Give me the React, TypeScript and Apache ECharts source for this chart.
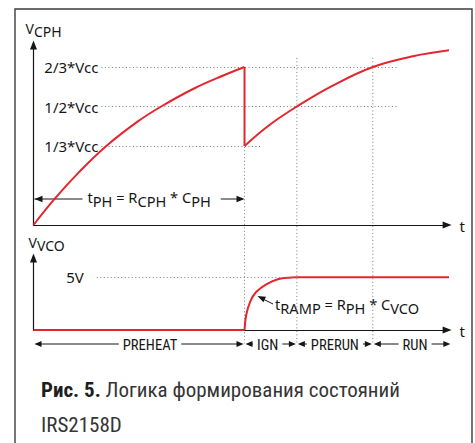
import React, { useEffect, useRef } from "react";
import * as echarts from "echarts";

// ---------- data ----------
// top panel: V_CPH as a fraction of Vcc, time in units of t_PH
const preheatT = [0, 0.1, 0.218, 0.345, 0.493, 0.605, 0.763, 0.905, 1.0];
const preheatV = [0, 0.11, 0.225, 0.3333, 0.436, 0.5, 0.577, 0.633, 0.6667];
const dropT = [1.0, 1.0];
const dropV = [0.6667, 0.3333];
const afterT = [1.0, 1.118, 1.248, 1.418, 1.608, 1.798, 1.995];
const afterV = [0.3333, 0.422, 0.5, 0.588, 0.6667, 0.712, 0.74];

const levelValues = [2 / 3, 1 / 2, 1 / 3];
const levelLabels = ["2/3*Vcc", "1/2*Vcc", "1/3*Vcc"];
const levelStart = [0.322, 0.322, 0.322];
const levelEnd = [1.725, 1.725, 1.076];

const guideT = [1.0, 1.248, 1.608];
const guideTopV = [0.33, 0.705, 0.705];
const guideBottomV = [-0.5, -0.5, -0.5];

// bottom panel: V_VCO in volts
const vcoLowT = [0, 1.0];
const vcoLowV = [0, 0];
const rampT = [1.0, 1.008, 1.027, 1.055, 1.103, 1.158, 1.221, 1.248];
const rampV = [0, 1.42, 2.7, 3.6, 4.33, 4.81, 4.98, 5];
const vcoHighT = [1.248, 1.995];
const vcoHighV = [5, 5];
const vcoLevel = 5;
const vcoLevelLabel = "5V";
const vcoLevelStart = 0.3;
const vcoLevelEnd = 1.248;

const phaseNames = ["PREHEAT", "IGN", "PRERUN", "RUN"];
const phaseBounds = [0, 1.0, 1.248, 1.608, 1.98];
const phaseShift = [11, -3, 0, 3];

// ---------- style ----------
const RED = "#e3262d";
const INK = "#161616";
const DOT = "#7a7a7a";
const FN = '"Noto Sans", "DejaVu Sans", sans-serif';
const FC = '"Roboto Condensed", Roboto, sans-serif';

let measureCtx: CanvasRenderingContext2D | null = null;
function measure(text: string, size: number, family: string, weight = "normal") {
  if (!measureCtx) measureCtx = document.createElement("canvas").getContext("2d");
  measureCtx!.font = `${weight} ${size}px ${family}`;
  return measureCtx!.measureText(text).width;
}

function zip(t: number[], v: number[]) {
  return t.map((x, i) => [x, v[i]]);
}

function arrowHead(x: number, y: number, dx: number, dy: number, len = 7, half = 3) {
  const n = Math.hypot(dx, dy);
  const ux = dx / n, uy = dy / n;
  const bx = x - ux * len, by = y - uy * len;
  const nx = -uy, ny = ux;
  return {
    type: "polygon",
    silent: true,
    shape: { points: [[x, y], [bx + nx * half, by + ny * half], [bx - nx * half, by - ny * half]] },
    style: { fill: INK },
  };
}
function seg(x1: number, y1: number, x2: number, y2: number) {
  return { type: "line", silent: true, shape: { x1, y1, x2, y2 }, style: { stroke: INK, lineWidth: 1 } };
}

// main/subscript rich text
function subText(parts: [string, string][], x: number, y: number, size: number, shift: number) {
  const text = parts.map(([k, s]) => `{${k}|${s}}`).join("");
  const width = parts.reduce((a, [, s]) => a + measure(s, size, FN), 0);
  return {
    width,
    el: {
      type: "text",
      silent: true,
      x,
      y,
      style: {
        text,
        textAlign: "left",
        align: "left",
        textVerticalAlign: "middle",
        verticalAlign: "middle",
        rich: {
          m: { fontSize: size, fontFamily: FN, fill: INK, padding: [0, 0, shift, 0] },
          s: { fontSize: size, fontFamily: FN, fill: INK, padding: [shift, 0, 0, 0] },
        },
      },
    },
  };
}
function plainText(text: string, x: number, y: number, size: number, family: string, align = "center", color = INK, weight = "normal") {
  return {
    type: "text",
    silent: true,
    x,
    y,
    style: {
      text,
      font: `${weight} ${size}px ${family}`,
      fill: color,
      textAlign: align,
      align,
      textVerticalAlign: "middle",
      verticalAlign: "middle",
    },
  };
}

const axisLine = {
  show: true,
  onZero: false,
  symbol: ["none", "triangle"],
  symbolSize: [7, 9],
  lineStyle: { color: INK, width: 1.2 },
};
const hidden = { axisTick: { show: false }, axisLabel: { show: false }, splitLine: { show: false } };

function baseOption(): any {
  return {
    animation: false,
    backgroundColor: "#ffffff",
    grid: [
      { left: 33.5, top: 45, width: 413.6, height: 180 },
      { left: 33.5, top: 258, width: 413.6, height: 72 },
    ],
    xAxis: [
      { gridIndex: 0, type: "value", min: 0, max: 1.96, axisLine, ...hidden },
      { gridIndex: 1, type: "value", min: 0, max: 1.96, axisLine, ...hidden },
    ],
    yAxis: [
      { gridIndex: 0, type: "value", min: 0, max: 0.7595, axisLine, ...hidden },
      { gridIndex: 1, type: "value", min: 0, max: 6.83, axisLine, ...hidden },
    ],
    series: [
      ...guideT.map((t, i) => ({
        type: "line",
        xAxisIndex: 0,
        yAxisIndex: 0,
        clip: false,
        silent: true,
        symbol: "none",
        data: [[t, guideTopV[i]], [t, guideBottomV[i]]],
        lineStyle: { color: DOT, width: 1, type: [1, 2.5] },
        z: 1,
      })),
      {
        type: "line",
        xAxisIndex: 0,
        yAxisIndex: 0,
        clip: false,
        silent: true,
        symbol: "none",
        smooth: 0.4,
        data: zip(preheatT, preheatV),
        lineStyle: { color: RED, width: 2 },
        z: 3,
        markLine: {
          silent: true,
          symbol: ["none", "none"],
          animation: false,
          lineStyle: { color: DOT, width: 1, type: [1, 2.5] },
          label: { show: true, position: "start", distance: 3, formatter: "{b}", color: INK, fontSize: 15, fontFamily: FN },
          data: levelValues.map((v, i) => [
            { coord: [levelStart[i], v], name: levelLabels[i] },
            { coord: [levelEnd[i], v] },
          ]),
          z: 1,
        },
      },
      {
        type: "line",
        xAxisIndex: 0,
        yAxisIndex: 0,
        clip: false,
        silent: true,
        symbol: "none",
        data: zip(dropT, dropV),
        lineStyle: { color: RED, width: 2 },
        z: 3,
      },
      {
        type: "line",
        xAxisIndex: 0,
        yAxisIndex: 0,
        clip: false,
        silent: true,
        symbol: "none",
        smooth: 0.4,
        data: zip(afterT, afterV),
        lineStyle: { color: RED, width: 2 },
        z: 3,
      },
      {
        type: "line",
        xAxisIndex: 1,
        yAxisIndex: 1,
        clip: false,
        silent: true,
        symbol: "none",
        data: zip(vcoLowT, vcoLowV),
        lineStyle: { color: RED, width: 2 },
        z: 3,
        markLine: {
          silent: true,
          symbol: ["none", "none"],
          animation: false,
          lineStyle: { color: DOT, width: 1, type: [1, 2.5] },
          label: { show: true, position: "start", distance: 13, formatter: "{b}", color: INK, fontSize: 15, fontFamily: FN },
          data: [[{ coord: [vcoLevelStart, vcoLevel], name: vcoLevelLabel }, { coord: [vcoLevelEnd, vcoLevel] }]],
        },
      },
      {
        type: "line",
        xAxisIndex: 1,
        yAxisIndex: 1,
        clip: false,
        silent: true,
        symbol: "none",
        smooth: 0.4,
        data: zip(rampT, rampV),
        lineStyle: { color: RED, width: 2 },
        z: 3,
      },
      {
        type: "line",
        xAxisIndex: 1,
        yAxisIndex: 1,
        clip: false,
        silent: true,
        symbol: "none",
        data: zip(vcoHighT, vcoHighV),
        lineStyle: { color: RED, width: 2 },
        z: 3,
      },
    ],
  };
}

function buildGraphic(px: (g: number, t: number, v: number) => number[]) {
  const els: any[] = [];
  // frame
  els.push({
    type: "rect",
    silent: true,
    shape: { x: 15, y: 9, width: 457, height: 470 },
    style: { fill: "none", stroke: "#3c3c3c", lineWidth: 1.4 },
    z: -1,
  });
  const o0 = px(0, 0, 0);
  const o1 = px(1, 0, 0);
  const xEnd = px(0, 1.96, 0)[0];

  // axis names
  els.push(subText([["m", "V"], ["s", "CPH"]], o0[0] - 8, 30, 14, 3.5).el);
  els.push(subText([["m", "V"], ["s", "VCO"]], o1[0] - 5, 244, 14, 3.5).el);
  els.push(plainText("t", xEnd + 15, o0[1] + 1, 15, FN));
  els.push(plainText("t", xEnd + 15, o1[1] + 1, 15, FN));

  // t_PH dimension arrow
  {
    const xa = px(0, 0, 0)[0] + 1;
    const xb = px(0, 1, 0)[0];
    const y = o0[1] - 26;
    const st = subText([["m", "t"], ["s", "PH"], ["m", " = R"], ["s", "CPH"], ["m", " * C"], ["s", "PH"]], xa + 53, y, 14.6, 4);
    els.push(st.el);
    els.push(seg(xa, y, xa + 48, y), arrowHead(xa, y, -1, 0, 8, 3.2));
    els.push(seg(xa + 53 + st.width + 10, y, xb - 2, y), arrowHead(xb, y, 1, 0, 8, 3.2));
  }

  // t_RAMP annotation
  {
    const st = subText([["m", "t"], ["s", "RAMP"], ["m", " = R"], ["s", "PH"], ["m", " * C"], ["s", "VCO"]], 275, 306, 14.6, 4);
    els.push(st.el);
    els.push(seg(273, 304, 262, 298.5), arrowHead(257.5, 296, -14.5, -7, 8, 3));
  }

  // phase row
  const yRow = o1[1] + 14;
  phaseNames.forEach((name, i) => {
    const xa = px(1, phaseBounds[i], 0)[0];
    const xb = px(1, phaseBounds[i + 1], 0)[0];
    const w = measure(name, 14.6, FC);
    const cx = (xa + xb) / 2 + phaseShift[i];
    els.push(plainText(name, cx, yRow + 1, 14.6, FC));
    els.push(seg(xa + 3, yRow, cx - w / 2 - 4, yRow), arrowHead(xa + 1, yRow, -1, 0, 7, 3));
    els.push(seg(cx + w / 2 + 4, yRow, xb - 3, yRow), arrowHead(xb - 1, yRow, 1, 0, 7, 3));
  });

  // caption
  els.push({
    type: "text",
    silent: true,
    x: 41,
    y: 390,
    style: {
      text: "{b|Рис. 5.}{r| Логика формирования состояний}",
      textAlign: "left",
      align: "left",
      textVerticalAlign: "middle",
      verticalAlign: "middle",
      rich: {
        b: { fontSize: 21, fontFamily: FC, fontWeight: "bold", fill: "#1e1e1e" },
        r: { fontSize: 21, fontFamily: FC, fill: "#353535" },
      },
    },
  });
  els.push(plainText("IRS2158D", 41, 424.5, 21, FC, "left", "#353535"));
  return els;
}

export default function App() {
  const ref = useRef<HTMLDivElement>(null);
  useEffect(() => {
    const chart = echarts.init(ref.current!, null, { renderer: "svg" });
    chart.setOption(baseOption());
    const px = (g: number, t: number, v: number) =>
      chart.convertToPixel({ gridIndex: g } as any, [t, v]) as number[];
    chart.setOption({ graphic: buildGraphic(px) });
    return () => chart.dispose();
  }, []);
  return (
    <div
      ref={ref}
      style={{ position: "absolute", left: 0, top: 0, width: 475, height: 443, background: "#fff" }}
    />
  );
}
